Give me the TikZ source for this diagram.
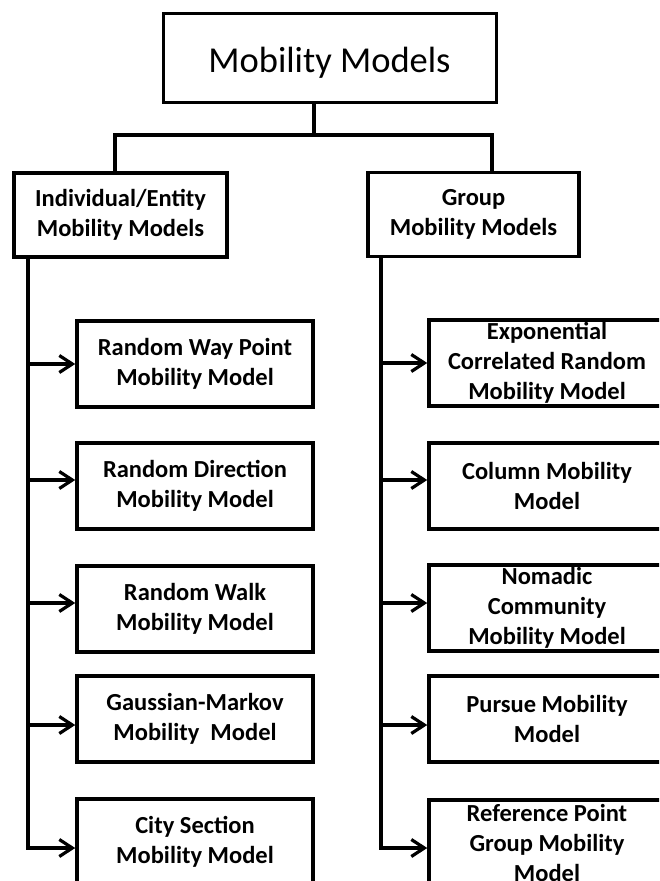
\documentclass[tikz,border=0pt]{standalone}
\usepackage{fontspec}
\setmainfont{Carlito}
\usetikzlibrary{arrows.meta}

\tikzset{
  rootbox/.style={draw, line width=3pt, minimum width=333pt, minimum height=89pt,
    inner sep=0pt, text height=30pt, text depth=0pt,
    font=\fontsize{36.5}{43}\selectfont},
  headbox/.style={draw, line width=3.5pt, minimum height=84pt, inner sep=0pt,
    align=center, font=\bfseries\fontsize{24.5}{30}\selectfont},
  modelbox/.style={draw, line width=3.5pt, minimum width=236pt, minimum height=86pt,
    inner sep=0pt, align=center, font=\bfseries\fontsize{24.5}{30}\selectfont},
  link/.style={line width=3.2pt},
  feed/.style={link, -{Straight Barb[length=13pt, width=17pt]}}
}

\begin{document}
\begin{tikzpicture}[x=1pt, y=-1pt]
  \useasboundingbox (0,0) rectangle (659,881);
  \clip (0,0) rectangle (659,881);

  % root of the taxonomy
  \node[rootbox] (root) at (329.5,57.5) {Mobility Models};

  % the two families
  \node[headbox, minimum width=213pt] (ind) at (120.5,215)
    {Individual/Entity\\Mobility Models};
  \node[headbox, minimum width=211pt] (grp) at (473.5,214.5)
    {Group\\Mobility Models};

  % branching from the root
  \coordinate (hub) at (314,135);
  \coordinate (jl) at (115,135);
  \coordinate (jr) at (492,135);
  \draw[link] (root.south -| hub) -- (hub);
  \draw[link] (ind.north -| jl) -- (jl) -- (jr) -- (grp.north -| jr);

  % individual / entity models
  \node[modelbox] (rwp)  at (195,364) {Random Way Point\\Mobility Model};
  \node[modelbox] (rd)   at (195,486) {Random Direction\\Mobility Model};
  \node[modelbox] (rw)   at (195,609) {Random Walk\\Mobility Model};
  \node[modelbox] (gm)   at (195,719) {Gaussian-Markov\\Mobility\ \ Model};
  \node[modelbox] (city) at (195,842) {City Section\\Mobility Model};

  % group models
  \node[modelbox] (ecr)  at (547,363) {Exponential\\Correlated Random\\Mobility Model};
  \node[modelbox] (col)  at (547,486) {Column Mobility\\Model};
  \node[modelbox] (nom)  at (547,608) {Nomadic\\Community\\Mobility Model};
  \node[modelbox] (pur)  at (547,719) {Pursue Mobility\\Model};
  \node[modelbox] (rpg)  at (547,843) {Reference Point\\Group Mobility\\Model};

  % left trunk and its feeds
  \coordinate (tl) at (28,848);
  \draw[feed] (ind.south -| tl) -- (tl) -- ([yshift=-6pt]city.west);
  \draw[feed] (tl |- rwp.west) -- (rwp.west);
  \draw[feed] ([yshift=6pt]tl |- rd.west) -- ([yshift=6pt]rd.west);
  \draw[feed] ([yshift=6pt]tl |- rw.west) -- ([yshift=6pt]rw.west);
  \draw[feed] ([yshift=-6pt]tl |- gm.west) -- ([yshift=-6pt]gm.west);

  % right trunk and its feeds
  \coordinate (tr) at (381,848);
  \draw[feed] (grp.south -| tr) -- (tr) -- ([yshift=-5pt]rpg.west);
  \draw[feed] (tr |- ecr.west) -- (ecr.west);
  \draw[feed] ([yshift=6pt]tr |- col.west) -- ([yshift=6pt]col.west);
  \draw[feed] ([yshift=5pt]tr |- nom.west) -- ([yshift=5pt]nom.west);
  \draw[feed] ([yshift=-6pt]tr |- pur.west) -- ([yshift=-6pt]pur.west);
\end{tikzpicture}
\end{document}
